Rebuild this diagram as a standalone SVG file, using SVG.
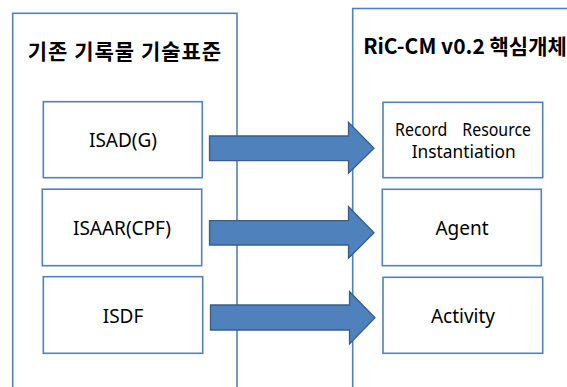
<svg xmlns="http://www.w3.org/2000/svg" width="567" height="387" viewBox="0 0 567 387">
<style>
.container{fill:#FFFFFF;stroke:#4F81BD;stroke-width:1.6}
.box{fill:#FFFFFF;stroke:#4F81BD;stroke-width:1.6}
.arrow{fill:#4F81BD;stroke:#385D8A;stroke-width:1.3;stroke-linejoin:miter}
.title{font-family:"Noto Sans CJK KR","Noto Sans",sans-serif;font-weight:bold;font-size:21px;fill:#000000;text-anchor:middle}
.label{font-family:"Noto Sans","Open Sans","Noto Sans CJK KR",sans-serif;font-size:19px;fill:#000000;text-anchor:middle}
.fit{font-size:17.5px;text-anchor:start}
</style>
<rect width="567" height="387" fill="#FFFFFF"/>
<g id="container-left">
<rect class="container" x="12.7" y="13.3" width="224.3" height="390"/>
<text class="title" x="125" y="58.5" letter-spacing="1">기존 기록물 기술표준</text>
</g>
<g id="container-right">
<rect class="container" x="352.7" y="8.5" width="240" height="395"/>
<text class="title" x="465" y="54">RiC-CM v0.2 핵심개체</text>
</g>
<g id="node-isadg">
<rect class="box" x="43.3" y="101.7" width="159" height="76"/>
<text class="label" x="123" y="147">ISAD(G)</text>
</g>
<g id="node-isaarcpf">
<rect class="box" x="42.3" y="189.2" width="159.4" height="76.5"/>
<text class="label" x="122" y="235">ISAAR(CPF)</text>
</g>
<g id="node-isdf">
<rect class="box" x="43.3" y="276.7" width="159.4" height="76.6"/>
<text class="label" x="123" y="322.5">ISDF</text>
</g>
<g id="node-record-resource">
<rect class="box" x="383" y="102.3" width="159.7" height="75.4"/>
<text class="label fit"><tspan x="395" y="136" textLength="52.3" lengthAdjust="spacingAndGlyphs">Record</tspan><tspan x="462.3" y="136" textLength="68.7" lengthAdjust="spacingAndGlyphs">Resource</tspan><tspan x="411.7" y="158" textLength="104" lengthAdjust="spacingAndGlyphs">Instantiation</tspan></text>
</g>
<g id="node-agent">
<rect class="box" x="382.3" y="189.3" width="159" height="76.4"/>
<text class="label" x="462" y="235">Agent</text>
</g>
<g id="node-activity">
<rect class="box" x="383" y="277.3" width="159.7" height="76"/>
<text class="label" x="463" y="322.5">Activity</text>
</g>
<g id="connectors">
<path class="arrow" d="M209.5,136 H348.5 V122.3 L374,148.3 L348.5,173.3 V160.7 H209.5 Z"/>
<path class="arrow" d="M209.5,220.7 H348.5 V206.7 L374,232.7 L348.5,258.3 V245 H209.5 Z"/>
<path class="arrow" d="M210.5,305 H349.5 V291.7 L375,317.7 L349.5,344 V330 H210.5 Z"/>
</g>
</svg>
